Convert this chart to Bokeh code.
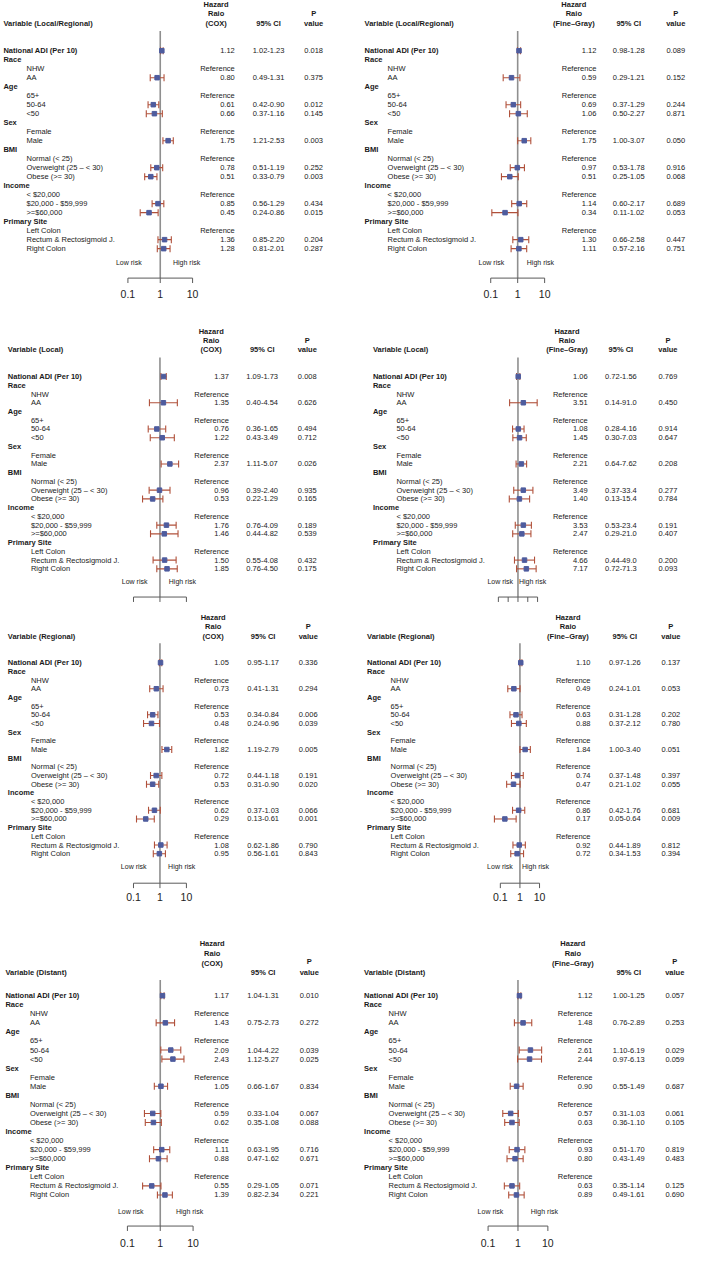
import numpy as np
from bokeh.plotting import figure
from bokeh.models import Range1d, LogScale, ColumnDataSource
from bokeh.core.properties import value
from bokeh.embed import file_html
from bokeh.resources import INLINE

# ---------------- data ----------------
row_labels = ["National ADI (Per 10)", "Race", "NHW", "AA", "Age", "65+", "50-64", "<50",
              "Sex", "Female", "Male", "BMI", "Normal (< 25)", "Overweight (25 \u2013 < 30)",
              "Obese (>= 30)", "Income", "< $20,000", "$20,000 - $59,999", ">=$60,000",
              "Primary Site", "Left Colon", "Rectum & Rectosigmoid J.", "Right Colon"]
row_kinds = ["head_est", "head", "ref", "est", "head", "ref", "est", "est",
             "head", "ref", "est", "head", "ref", "est",
             "est", "head", "ref", "est", "est",
             "head", "ref", "est", "est"]

titles = ["Variable (Local/Regional)", "Variable (Local/Regional)",
          "Variable (Local)", "Variable (Local)",
          "Variable (Regional)", "Variable (Regional)",
          "Variable (Distant)", "Variable (Distant)"]
models = ["(COX)", "(Fine\u2013Gray)"] * 4

lr_cox_hr = [1.12, 0.80, 0.61, 0.66, 1.75, 0.78, 0.51, 0.85, 0.45, 1.36, 1.28]
lr_cox_lo = [1.02, 0.49, 0.42, 0.37, 1.21, 0.51, 0.33, 0.56, 0.24, 0.85, 0.81]
lr_cox_hi = [1.23, 1.31, 0.90, 1.16, 2.53, 1.19, 0.79, 1.29, 0.86, 2.20, 2.01]
lr_cox_p = ["0.018", "0.375", "0.012", "0.145", "0.003", "0.252", "0.003", "0.434", "0.015", "0.204", "0.287"]

lr_fg_hr = [1.12, 0.59, 0.69, 1.06, 1.75, 0.97, 0.51, 1.14, 0.34, 1.30, 1.11]
lr_fg_lo = [0.98, 0.29, 0.37, 0.50, 1.00, 0.53, 0.25, 0.60, 0.11, 0.66, 0.57]
lr_fg_hi = [1.28, 1.21, 1.29, 2.27, 3.07, 1.78, 1.05, 2.17, 1.02, 2.58, 2.16]
lr_fg_p = ["0.089", "0.152", "0.244", "0.871", "0.050", "0.916", "0.068", "0.689", "0.053", "0.447", "0.751"]

loc_cox_hr = [1.37, 1.35, 0.76, 1.22, 2.37, 0.96, 0.53, 1.76, 1.46, 1.50, 1.85]
loc_cox_lo = [1.09, 0.40, 0.36, 0.43, 1.11, 0.39, 0.22, 0.76, 0.44, 0.55, 0.76]
loc_cox_hi = [1.73, 4.54, 1.65, 3.49, 5.07, 2.40, 1.29, 4.09, 4.82, 4.08, 4.50]
loc_cox_p = ["0.008", "0.626", "0.494", "0.712", "0.026", "0.935", "0.165", "0.189", "0.539", "0.432", "0.175"]

loc_fg_hr = [1.06, 3.51, 1.08, 1.45, 2.21, 3.49, 1.40, 3.53, 2.47, 4.66, 7.17]
loc_fg_lo = [0.72, 0.14, 0.28, 0.30, 0.64, 0.37, 0.13, 0.53, 0.29, 0.44, 0.72]
loc_fg_hi = [1.56, 91.0, 4.16, 7.03, 7.62, 33.4, 15.4, 23.4, 21.0, 49.0, 71.3]
loc_fg_p = ["0.769", "0.450", "0.914", "0.647", "0.208", "0.277", "0.784", "0.191", "0.407", "0.200", "0.093"]

reg_cox_hr = [1.05, 0.73, 0.53, 0.48, 1.82, 0.72, 0.53, 0.62, 0.29, 1.08, 0.95]
reg_cox_lo = [0.95, 0.41, 0.34, 0.24, 1.19, 0.44, 0.31, 0.37, 0.13, 0.62, 0.56]
reg_cox_hi = [1.17, 1.31, 0.84, 0.96, 2.79, 1.18, 0.90, 1.03, 0.61, 1.86, 1.61]
reg_cox_p = ["0.336", "0.294", "0.006", "0.039", "0.005", "0.191", "0.020", "0.066", "0.001", "0.790", "0.843"]

reg_fg_hr = [1.10, 0.49, 0.63, 0.88, 1.84, 0.74, 0.47, 0.86, 0.17, 0.92, 0.72]
reg_fg_lo = [0.97, 0.24, 0.31, 0.37, 1.00, 0.37, 0.21, 0.42, 0.05, 0.44, 0.34]
reg_fg_hi = [1.26, 1.01, 1.28, 2.12, 3.40, 1.48, 1.02, 1.76, 0.64, 1.89, 1.53]
reg_fg_p = ["0.137", "0.053", "0.202", "0.780", "0.051", "0.397", "0.055", "0.681", "0.009", "0.812", "0.394"]

dis_cox_hr = [1.17, 1.43, 2.09, 2.43, 1.05, 0.59, 0.62, 1.11, 0.88, 0.55, 1.39]
dis_cox_lo = [1.04, 0.75, 1.04, 1.12, 0.66, 0.33, 0.35, 0.63, 0.47, 0.29, 0.82]
dis_cox_hi = [1.31, 2.73, 4.22, 5.27, 1.67, 1.04, 1.08, 1.95, 1.62, 1.05, 2.34]
dis_cox_p = ["0.010", "0.272", "0.039", "0.025", "0.834", "0.067", "0.088", "0.716", "0.671", "0.071", "0.221"]

dis_fg_hr = [1.12, 1.48, 2.61, 2.44, 0.90, 0.57, 0.63, 0.93, 0.80, 0.63, 0.89]
dis_fg_lo = [1.00, 0.76, 1.10, 0.97, 0.55, 0.31, 0.36, 0.51, 0.43, 0.35, 0.49]
dis_fg_hi = [1.25, 2.89, 6.19, 6.13, 1.49, 1.03, 1.10, 1.70, 1.49, 1.14, 1.61]
dis_fg_p = ["0.057", "0.253", "0.029", "0.059", "0.687", "0.061", "0.105", "0.819", "0.483", "0.125", "0.690"]

panel_data = [
    (lr_cox_hr, lr_cox_lo, lr_cox_hi, lr_cox_p),
    (lr_fg_hr, lr_fg_lo, lr_fg_hi, lr_fg_p),
    (loc_cox_hr, loc_cox_lo, loc_cox_hi, loc_cox_p),
    (loc_fg_hr, loc_fg_lo, loc_fg_hi, loc_fg_p),
    (reg_cox_hr, reg_cox_lo, reg_cox_hi, reg_cox_p),
    (reg_fg_hr, reg_fg_lo, reg_fg_hi, reg_fg_p),
    (dis_cox_hr, dis_cox_lo, dis_cox_hi, dis_cox_p),
    (dis_fg_hr, dis_fg_lo, dis_fg_hi, dis_fg_p),
]
tick_values = [[0.1, 1, 10], [0.1, 1, 10], [0.1, 1, 10], [0.01, 0.1, 1, 10, 100],
               [0.1, 1, 10], [0.1, 1, 10], [0.1, 1, 10], [0.1, 1, 10]]
tick_labels = [["0.1", "1", "10"], ["0.1", "1", "10"], [], [],
               ["0.1", "1", "10"], ["0.1", "1", "10"], ["0.1", "1", "10"], ["0.1", "1", "10"]]

# ---------------- layout (reference pixel space) ----------------
row_layout = [
    dict(y0=51.0, dy=9.14, hz=(4.5, 13.5, 23.3), p_y=(13.3, 23.3), var_y=23.3, vtop=31, risk_y=266, axis_y=282, tl_y=298),
    dict(y0=382.0, dy=8.88, hz=(336, 345, 355), p_y=(345, 355), var_y=355, vtop=362.7, risk_y=590, axis_y=606, tl_y=622),
    dict(y0=672.7, dy=8.82, hz=(626.7, 636, 645.7), p_y=(636, 645.7), var_y=645.7, vtop=653, risk_y=880, axis_y=896.7, tl_y=911),
    dict(y0=1011.0, dy=9.2, hz=(958, 968, 978), p_y=(976, 987), var_y=987, vtop=995, risk_y=1230, axis_y=1245, tl_y=1262),
]
panel_layout = [
    dict(one=163.0, ppd=33.0, var_x=3, sub_x=26.5, hr_r=239, hz_c=220, ci_c=273.5, p_c=319.5, low=144, high=176),
    dict(one=527.7, ppd=27.5, var_x=371.5, sub_x=395, hr_r=608, hz_c=585, ci_c=641, p_c=689, low=514, high=537),
    dict(one=162.7, ppd=27.0, var_x=7.5, sub_x=31, hr_r=233, hz_c=215, ci_c=267, p_c=313, low=150, high=171.7),
    dict(one=528.0, ppd=10.0, var_x=380, sub_x=404, hr_r=599, hz_c=578, ci_c=633, p_c=681, low=523, high=529),
    dict(one=162.7, ppd=27.0, var_x=7.5, sub_x=31, hr_r=233, hz_c=217, ci_c=268, p_c=314, low=149, high=171),
    dict(one=530.0, ppd=20.0, var_x=374, sub_x=398, hr_r=602, hz_c=579, ci_c=637, p_c=684, low=522.7, high=532),
    dict(one=163.0, ppd=33.5, var_x=5, sub_x=30, hr_r=233, hz_c=216, ci_c=268, p_c=315, low=146, high=179),
    dict(one=528.0, ppd=30.5, var_x=371, sub_x=396, hr_r=604, hz_c=584, ci_c=641, p_c=688, low=513, high=541),
]

W_REF, H_REF = 702, 1280
FONT = value("Liberation Sans")
FS = "7.5px"
TXT = "#1a1a1a"
CI_COLOR = "#b0503a"
SQ_COLOR = "#4e5c9e"
REF_LINE = "#8f8f8f"
AX_COLOR = "#5a5a5a"

p = figure(width=688, height=1260, x_range=Range1d(0, W_REF), y_range=Range1d(H_REF, 0),
           output_backend="svg", toolbar_location=None, min_border=0,
           x_axis_location=None, y_axis_location=None, outline_line_color=None)
p.grid.visible = False


def fmt_ci(v):
    return f"{v:.1f}" if v >= 10 else f"{v:.2f}"


for r, rl in enumerate(row_layout):
    yname = f"row{r}"
    p.extra_y_ranges[yname] = Range1d(start=(H_REF - rl["y0"]) / rl["dy"], end=-rl["y0"] / rl["dy"])

head_idx = [i for i, kd in enumerate(row_kinds) if kd.startswith("head")]
sub_idx = [i for i, kd in enumerate(row_kinds) if not kd.startswith("head")]
est_idx = [i for i, kd in enumerate(row_kinds) if kd in ("head_est", "est")]
ref_idx = [i for i, kd in enumerate(row_kinds) if kd == "ref"]

for k in range(8):
    rl = row_layout[k // 2]
    pl = panel_layout[k]
    yname = f"row{k // 2}"
    xname = f"hr{k}"
    p.extra_x_ranges[xname] = Range1d(start=10 ** ((0 - pl["one"]) / pl["ppd"]),
                                      end=10 ** ((W_REF - pl["one"]) / pl["ppd"]))
    p.extra_x_scales[xname] = LogScale()
    hr, lo, hi, pv = panel_data[k]

    # ---- row labels ----
    p.text(x=[pl["var_x"]] * len(head_idx), y=head_idx, text=[row_labels[i] for i in head_idx],
           y_range_name=yname, text_font=FONT, text_font_size=FS, text_font_style="bold",
           text_color=TXT, text_baseline="middle", text_align="left")
    p.text(x=[pl["sub_x"]] * len(sub_idx), y=sub_idx, text=[row_labels[i] for i in sub_idx],
           y_range_name=yname, text_font=FONT, text_font_size=FS,
           text_color=TXT, text_baseline="middle", text_align="left")

    # ---- numeric columns ----
    hr_txt = [f"{v:.2f}" for v in hr] + ["Reference"] * len(ref_idx)
    p.text(x=[pl["hr_r"]] * len(hr_txt), y=est_idx + ref_idx, text=hr_txt, y_range_name=yname,
           text_font=FONT, text_font_size=FS, text_color=TXT, text_baseline="middle", text_align="right")
    ci_txt = [f"{fmt_ci(a)}-{fmt_ci(b)}" for a, b in zip(lo, hi)]
    p.text(x=[pl["ci_c"]] * len(ci_txt), y=est_idx, text=ci_txt, y_range_name=yname,
           text_font=FONT, text_font_size=FS, text_color=TXT, text_baseline="middle", text_align="center")
    p.text(x=[pl["p_c"]] * len(pv), y=est_idx, text=pv, y_range_name=yname,
           text_font=FONT, text_font_size=FS, text_color=TXT, text_baseline="middle", text_align="center")

    # ---- header ----
    hx = [pl["hz_c"]] * 3 + [pl["ci_c"], pl["p_c"], pl["p_c"]]
    hy = list(rl["hz"]) + [rl["var_y"], rl["p_y"][0], rl["p_y"][1]]
    ht = ["Hazard", "Raio", models[k], "95% CI", "P", "value"]
    p.text(x=hx, y=hy, text=ht, text_font=FONT, text_font_size=FS, text_font_style="bold",
           text_color=TXT, text_baseline="middle", text_align="center")
    p.text(x=[pl["var_x"]], y=[rl["var_y"]], text=[titles[k]], text_font=FONT, text_font_size=FS,
           text_font_style="bold", text_color=TXT, text_baseline="middle", text_align="left")

    # ---- reference line and axis ----
    p.segment(x0=[1], x1=[1], y0=[rl["vtop"]], y1=[rl["axis_y"]], x_range_name=xname,
              line_color=REF_LINE, line_width=1.6)
    tv = tick_values[k]
    p.segment(x0=[min(tv)], x1=[max(tv)], y0=[rl["axis_y"]], y1=[rl["axis_y"]], x_range_name=xname,
              line_color=AX_COLOR, line_width=1)
    p.segment(x0=tv, x1=tv, y0=[rl["axis_y"]] * len(tv), y1=[rl["axis_y"] + 5] * len(tv),
              x_range_name=xname, line_color=AX_COLOR, line_width=1)
    if tick_labels[k]:
        p.text(x=tv, y=[rl["tl_y"]] * len(tv), text=tick_labels[k], x_range_name=xname,
               text_font=FONT, text_font_size="10.5px", text_color="#222222",
               text_baseline="middle", text_align="center")
    p.text(x=[pl["low"]], y=[rl["risk_y"]], text=["Low risk"], text_font=FONT, text_font_size="7px",
           text_color=TXT, text_baseline="middle", text_align="right")
    p.text(x=[pl["high"]], y=[rl["risk_y"]], text=["High risk"], text_font=FONT, text_font_size="7px",
           text_color=TXT, text_baseline="middle", text_align="left")

    # ---- CIs and point estimates ----
    src = ColumnDataSource(dict(y=est_idx, hr=hr, lo=lo, hi=hi))
    p.segment(x0="lo", x1="hi", y0="y", y1="y", source=src, x_range_name=xname, y_range_name=yname,
              line_color=CI_COLOR, line_width=1.1)
    p.scatter(x="lo", y="y", source=src, marker="dash", angle=np.pi / 2, size=7,
              x_range_name=xname, y_range_name=yname, line_color=CI_COLOR, line_width=1.1)
    p.scatter(x="hi", y="y", source=src, marker="dash", angle=np.pi / 2, size=7,
              x_range_name=xname, y_range_name=yname, line_color=CI_COLOR, line_width=1.1)
    p.scatter(x="hr", y="y", source=src, marker="square", size=4.5,
              x_range_name=xname, y_range_name=yname, fill_color=SQ_COLOR, line_color=SQ_COLOR)

open("out.html", "w").write(file_html(p, INLINE))
